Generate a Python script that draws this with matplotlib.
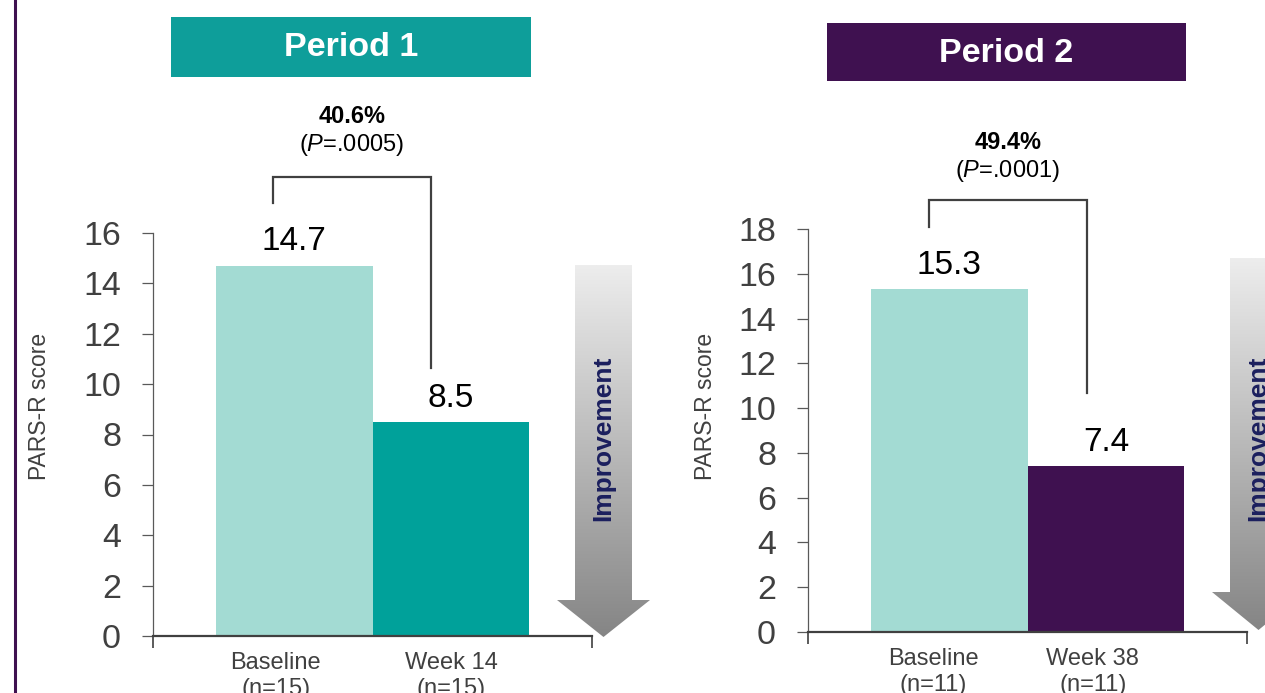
import matplotlib
matplotlib.use("Agg")
import matplotlib.pyplot as plt
import numpy as np
from matplotlib.patches import Polygon, Rectangle
from matplotlib.colors import LinearSegmentedColormap

plt.rcParams['font.family'] = ['Liberation Sans', 'DejaVu Sans']
plt.rcParams['mathtext.fontset'] = 'custom'
plt.rcParams['mathtext.rm'] = 'Liberation Sans'
plt.rcParams['mathtext.it'] = 'Liberation Sans:italic'

# ---- data ----
p1_categories = ["Baseline\n(n=15)", "Week 14\n(n=15)"]
p1_values = [14.7, 8.5]
p1_change = "40.6%"
p1_pvalue = ".0005"
p1_yticks = [0, 2, 4, 6, 8, 10, 12, 14, 16]

p2_categories = ["Baseline\n(n=11)", "Week 38\n(n=11)"]
p2_values = [15.3, 7.4]
p2_change = "49.4%"
p2_pvalue = ".0001"
p2_yticks = [0, 2, 4, 6, 8, 10, 12, 14, 16, 18]

panel_titles = ["Period 1", "Period 2"]
ylabel = "PARS-R score"
arrow_text = "Improvement"

# ---- styles ----
C_BASE = "#A3DBD3"
C_W14 = "#00A19A"
C_W38 = "#3F1150"
C_P1 = "#0E9E9A"
C_P2 = "#3F1150"
TXT = "#404040"

W, H = 1265, 693
fig = plt.figure(figsize=(W / 100, H / 100), dpi=100)
fig.patch.set_facecolor("white")


def px_axes(left, right, bottom, top):
    return [left / W, (H - bottom) / H, (right - left) / W, (bottom - top) / H]


def panel(rect, cats, vals, colors, yticks, change, pval, ylab_xy, cat_x,
          br_x, br_y, txt_y):
    ax = fig.add_axes(rect)
    ax.patch.set_alpha(0)
    bw = 0.3576
    xs = [0.5 - bw / 2, 0.5 + bw / 2]
    ax.bar(xs, vals, width=bw, color=colors, zorder=2)
    ax.set_xlim(0, 1)
    ax.set_ylim(0, yticks[-1])
    ax.set_yticks(yticks)
    ax.set_yticklabels([str(t) for t in yticks], fontsize=24.5, color=TXT)
    ax.tick_params(axis='y', direction='out', length=8, width=0.9,
                   color="#595959", pad=15)
    ax.set_xticks([0, 1])
    ax.set_xticklabels([])
    ax.tick_params(axis='x', direction='out', length=8.5, width=1.2,
                   color="#404040")
    for s in ("top", "right"):
        ax.spines[s].set_visible(False)
    ax.spines["left"].set_color("#595959")
    ax.spines["left"].set_linewidth(0.9)
    ax.spines["bottom"].set_color("#404040")
    ax.spines["bottom"].set_linewidth(1.6)
    ax.set_ylabel(ylabel, fontsize=16.5, color=TXT)
    ax.yaxis.set_label_coords(*ylab_xy)
    for x, v in zip(xs, vals):
        ax.annotate(f"{v}", (x, v), xytext=(0, 11), textcoords="offset points",
                    ha="center", va="baseline", fontsize=24, color="black")
    for x, c in zip(cat_x, cats):
        ax.text(x, -0.04, c, transform=ax.transAxes, ha="center", va="top",
                fontsize=17, color=TXT, linespacing=1.22, clip_on=False)
    # bracket
    xl, xr = br_x
    yl, yt, yr = br_y
    ax.plot([xl, xl, xr, xr], [yl, yt, yt, yr], color="#404040", lw=1.6,
            clip_on=False, solid_joinstyle="miter")
    xm = (xl + xr) / 2
    ax.text(xm, txt_y[0], change, ha="center", va="center", fontsize=17,
            fontweight="bold", color="black", clip_on=False)
    ax.text(xm, txt_y[1], r"($\mathit{P}$=" + pval + ")", ha="center",
            va="center", fontsize=17, color="black", clip_on=False)
    return ax


ax1 = panel(px_axes(153, 592, 636, 233), p1_categories, p1_values,
            [C_BASE, C_W14], p1_yticks, p1_change, p1_pvalue,
            (-0.233, 0.57), [0.280, 0.679],
            (0.273, 0.633), (17.19, 18.22, 10.64), (20.64, 19.49))
ax2 = panel(px_axes(808, 1247, 632, 229), p2_categories, p2_values,
            [C_BASE, C_W38], p2_yticks, p2_change, p2_pvalue,
            (-0.208, 0.56), [0.285, 0.649],
            (0.2756, 0.6355), (18.09, 19.29, 10.67), (21.88, 20.59))

# ---- overlay for decorations ----
ov = fig.add_axes([0, 0, 1, 1], zorder=-1)
ov.set_xlim(0, W)
ov.set_ylim(H, 0)
ov.axis("off")

ov.plot([15, 15], [0, H], color="#3F1150", lw=2.2)

for (x0, x1, y0, y1), col, title in zip(
        [(171, 531, 17, 77), (827, 1186, 23, 81)], [C_P1, C_P2], panel_titles):
    ov.add_patch(Rectangle((x0, y0), x1 - x0, y1 - y0, color=col, lw=0))
    ov.text((x0 + x1) / 2, (y0 + y1) / 2 + 1, title, ha="center", va="center",
            fontsize=24.5, fontweight="bold", color="white")

grad = np.linspace(0, 1, 256).reshape(-1, 1)
cmap = LinearSegmentedColormap.from_list("g", ["#ededed", "#858585"])
for cx, top, headtop, tip in [(603.5, 265, 600, 637), (1258.5, 258, 592, 630)]:
    hw, hh = 28.5, 46.5
    pts = [(cx - hw, top), (cx + hw, top), (cx + hw, headtop), (cx + hh, headtop),
           (cx, tip), (cx - hh, headtop), (cx - hw, headtop)]
    poly = Polygon(pts, closed=True, facecolor="none", edgecolor="none")
    ov.add_patch(poly)
    im = ov.imshow(grad, cmap=cmap, extent=(cx - hh, cx + hh, tip, top),
                   aspect="auto", interpolation="bilinear")
    im.set_clip_path(poly)
    ov.text(cx, 438, arrow_text, rotation=90, ha="center", va="center",
            fontsize=19, fontweight="bold", color="#1B1F5E")
ov.set_xlim(0, W)
ov.set_ylim(H, 0)

fig.savefig("out.png", dpi=100, facecolor="white")
